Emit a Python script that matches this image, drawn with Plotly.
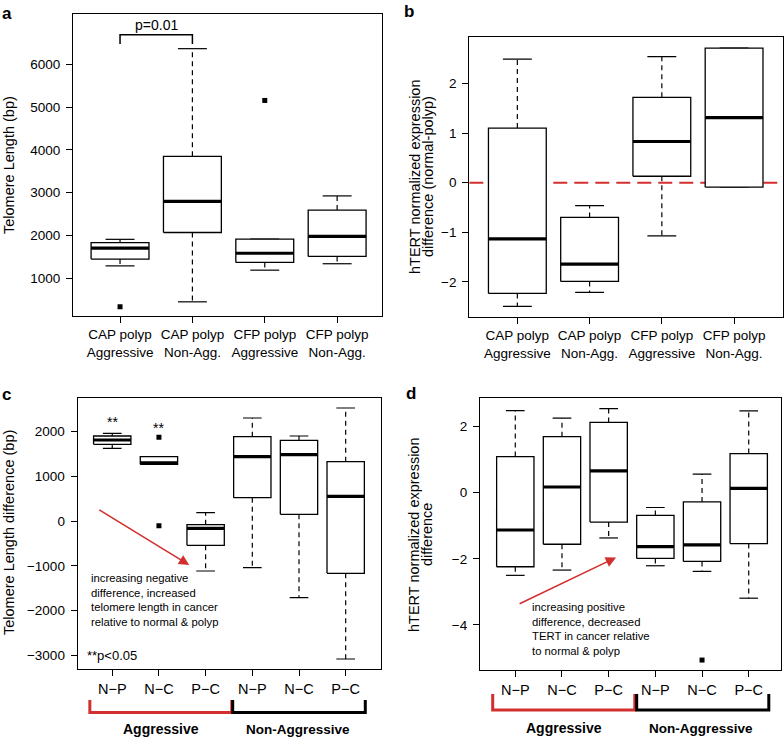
import plotly.graph_objects as go

FONT = "Liberation Sans, Arial, Helvetica, sans-serif"
W, H = 784, 738
RED = "#d32f2f"

# ---------------- data ----------------
# Panel a: telomere length in polyps
a_pos = [1, 2, 3, 4]
a_ticktext = ["CAP polyp<br>Aggressive", "CAP polyp<br>Non-Agg.",
              "CFP polyp<br>Aggressive", "CFP polyp<br>Non-Agg."]
a_lower = [1290, 450, 1190, 1340]
a_q1 = [1450, 2070, 1370, 1510]
a_median = [1705, 2795, 1585, 1980]
a_q3 = [1835, 3850, 1915, 2595]
a_upper = [1910, 6365, 1915, 2925]
a_out_x = [1, 3]
a_out_y = [335, 5155]
a_yticks = [1000, 2000, 3000, 4000, 5000, 6000]
a_bracket_y = [6474, 6692]

# Panel b: hTERT difference (normal-polyp)
b_pos = [1, 2, 3, 4]
b_lower = [-2.49, -2.21, -1.07, -0.09]
b_q1 = [-2.23, -1.99, 0.13, -0.09]
b_median = [-1.13, -1.64, 0.83, 1.31]
b_q3 = [1.10, -0.70, 1.72, 2.71]
b_upper = [2.49, -0.46, 2.54, 2.71]
b_yticks = [-2, -1, 0, 1, 2]

# Panel c: telomere length difference
c_pos = [1, 2, 3, 4, 5, 6]
cd_ticktext = ["N\u2212P", "N\u2212C", "P\u2212C", "N\u2212P", "N\u2212C", "P\u2212C"]
c_lower = [1621, 1264, -1114, -1040, -1709, -3076]
c_q1 = [1710, 1264, -542, 520, 149, -1166]
c_median = [1806, 1295, -163, 1434, 1479, 550]
c_q3 = [1895, 1434, -82, 1880, 1798, 1323]
c_upper = [1955, 1434, 186, 2296, 1895, 2519]
c_out_x = [2, 2]
c_out_y = [1866, -104]
c_yticks = [-3000, -2000, -1000, 0, 1000, 2000]
c_note = ["increasing negative", "difference, increased",
          "telomere length in cancer", "relative to normal &amp; polyp"]

# Panel d: hTERT difference
d_pos = [1, 2, 3, 4, 5, 6]
d_lower = [-2.50, -2.34, -1.37, -2.21, -2.38, -3.19]
d_q1 = [-2.24, -1.56, -0.89, -1.99, -2.08, -1.54]
d_median = [-1.13, 0.17, 0.66, -1.63, -1.58, 0.13]
d_q3 = [1.09, 1.69, 2.12, -0.69, -0.28, 1.18]
d_upper = [2.48, 2.25, 2.54, -0.45, 0.56, 2.47]
d_out_x = [5]
d_out_y = [-5.06]
d_yticks = [-4, -2, 0, 2]
d_note = ["increasing positive", "difference, decreased",
          "TERT in cancer relative", "to normal &amp; polyp"]


def px(p):
    return p / W


def py(p):
    return 1 - p / H


fig = go.Figure()


def add_boxes(xa, ya, pos, lower, q1, med, q3, upper, out_x, out_y, half=0.4, cap=0.2):
    bx, by, mx, my, wx, wy, cx, cy = [], [], [], [], [], [], [], []
    for p, lo, a, m, b, up in zip(pos, lower, q1, med, q3, upper):
        bx += [p - half, p + half, p + half, p - half, p - half, None]
        by += [a, a, b, b, a, None]
        mx += [p - half, p + half, None]
        my += [m, m, None]
        wx += [p, p, None, p, p, None]
        wy += [b, up, None, a, lo, None]
        cx += [p - cap, p + cap, None, p - cap, p + cap, None]
        cy += [up, up, None, lo, lo, None]
    common = dict(mode="lines", xaxis=xa, yaxis=ya, hoverinfo="skip", showlegend=False)
    fig.add_trace(go.Scatter(x=wx, y=wy, line=dict(color="black", width=1.2, dash="5px,4px"), **common))
    fig.add_trace(go.Scatter(x=cx, y=cy, line=dict(color="black", width=1.2), **common))
    fig.add_trace(go.Scatter(x=bx, y=by, line=dict(color="black", width=1.3), fill="toself",
                             fillcolor="white", **common))
    fig.add_trace(go.Scatter(x=mx, y=my, line=dict(color="black", width=3.2), **common))
    if out_x:
        fig.add_trace(go.Scatter(x=out_x, y=out_y, mode="markers", xaxis=xa, yaxis=ya,
                                 marker=dict(symbol="square", size=5, color="black"),
                                 hoverinfo="skip", showlegend=False))


# red zero line in b (drawn first so boxes sit on top)
fig.add_trace(go.Scatter(x=[0.335, 4.67], y=[0, 0], mode="lines", xaxis="x2", yaxis="y2",
                         line=dict(color=RED, width=2, dash="14px,7px"),
                         hoverinfo="skip", showlegend=False))

add_boxes("x", "y", a_pos, a_lower, a_q1, a_median, a_q3, a_upper, a_out_x, a_out_y)
add_boxes("x2", "y2", b_pos, b_lower, b_q1, b_median, b_q3, b_upper, [], [])
add_boxes("x3", "y3", c_pos, c_lower, c_q1, c_median, c_q3, c_upper, c_out_x, c_out_y)
add_boxes("x4", "y4", d_pos, d_lower, d_q1, d_median, d_q3, d_upper, d_out_x, d_out_y)

# p=0.01 bracket in a
fig.add_trace(go.Scatter(x=[a_pos[0], a_pos[0], a_pos[1], a_pos[1]],
                         y=[a_bracket_y[0], a_bracket_y[1], a_bracket_y[1], a_bracket_y[0]],
                         mode="lines", xaxis="x", yaxis="y", line=dict(color="black", width=1.5),
                         hoverinfo="skip", showlegend=False))

axis_common = dict(showline=True, linecolor="black", linewidth=1.2, mirror=True,
                   ticks="outside", ticklen=6, tickwidth=1.2, tickcolor="black",
                   showgrid=False, zeroline=False, fixedrange=True,
                   tickfont=dict(family=FONT, size=13.5, color="black"))

layout = dict(
    width=W, height=H, margin=dict(l=0, r=0, t=0, b=0),
    paper_bgcolor="white", plot_bgcolor="white", showlegend=False,
    font=dict(family=FONT, color="black"),
    xaxis=dict(domain=[px(73), px(382)], range=[0.35, 4.62], anchor="y",
               tickvals=a_pos, ticktext=a_ticktext, **axis_common),
    yaxis=dict(domain=[py(316), py(14)], range=[119, 7175], anchor="x",
               tickvals=a_yticks, ticklabelstandoff=3, **axis_common),
    xaxis2=dict(domain=[px(469.3), px(782.5)], range=[0.335, 4.67], anchor="y2",
                tickvals=b_pos, ticktext=a_ticktext, **axis_common),
    yaxis2=dict(domain=[py(316.7), py(37.3)], range=[-2.70, 2.93], anchor="x2",
                tickvals=b_yticks, ticklabelstandoff=3, **axis_common),
    xaxis3=dict(domain=[px(77.7), px(380.7)], range=[0.26, 6.75], anchor="y3",
                tickvals=c_pos, ticktext=cd_ticktext, **axis_common),
    yaxis3=dict(domain=[py(669), py(398.3)], range=[-3299, 2735], anchor="x3",
                tickvals=c_yticks, ticklabelstandoff=3, **axis_common),
    xaxis4=dict(domain=[px(480), px(780.7)], range=[0.244, 6.685], anchor="y4",
                tickvals=d_pos, ticktext=cd_ticktext, **axis_common),
    yaxis4=dict(domain=[py(670), py(398.3)], range=[-5.36, 2.85], anchor="x4",
                tickvals=d_yticks, ticklabelstandoff=3, **axis_common),
)
fig.update_layout(**layout)
fig.update_xaxes(tickfont=dict(size=14.5), selector=dict(anchor="y3"))
fig.update_xaxes(tickfont=dict(size=14.5), selector=dict(anchor="y4"))

ann = []


def text(x, y, s, size=14, xref="paper", yref="paper", xanchor="center", yanchor="middle",
         angle=0, bold=False, color="black", align="center"):
    ann.append(dict(x=x, y=y, xref=xref, yref=yref, text=("<b>%s</b>" % s) if bold else s,
                    showarrow=False, xanchor=xanchor, yanchor=yanchor, textangle=angle,
                    align=align, font=dict(family=FONT, size=size, color=color)))


# panel letters
text(px(0), py(2), "a", size=17, bold=True, xanchor="left", yanchor="top")
text(px(402), py(0), "b", size=17, bold=True, xanchor="left", yanchor="top")
text(px(0), py(383), "c", size=17, bold=True, xanchor="left", yanchor="top")
text(px(404), py(382), "d", size=17, bold=True, xanchor="left", yanchor="top")

# axis titles
text(px(9), py(165), "Telomere Length (bp)", size=14.5, angle=-90)
text(px(415), py(177), "hTERT normalized expression", size=14.5, angle=-90)
text(px(428), py(177), "difference (normal-polyp)", size=14.5, angle=-90)
text(px(9), py(533), "Telomere Length difference (bp)", size=14.5, angle=-90)
text(px(414), py(534), "hTERT normalized expression", size=14.5, angle=-90)
text(px(427), py(534), "difference", size=14.5, angle=-90)

# p value in a
text(1.5, 6918, "p=0.01", size=14, xref="x", yref="y")

# significance stars in c
text(1, 2210, "**", size=14, xref="x3", yref="y3")
text(2, 2070, "**", size=14, xref="x3", yref="y3")
text(px(85), py(655), "**p&lt;0.05", size=13, xanchor="left")

# explanatory notes
text(px(89), py(599.5), "<br>".join(c_note), size=11.3, xanchor="left", align="left")
text(px(529.5), py(628.5), "<br>".join(d_note), size=11.3, xanchor="left", align="left")

# red arrows
ann.append(dict(x=2.65, y=-981, ax=0.69, ay=267, xref="x3", yref="y3", axref="x3", ayref="y3",
                text="", showarrow=True, arrowhead=2, arrowsize=1.3, arrowwidth=1.6, arrowcolor=RED))
ann.append(dict(x=3.16, y=-1.96, ax=1.06, ay=-3.38, xref="x4", yref="y4", axref="x4", ayref="y4",
                text="", showarrow=True, arrowhead=2, arrowsize=1.3, arrowwidth=1.6, arrowcolor=RED))

# group labels
text(2.04, py(729), "Aggressive", size=14, bold=True, xref="x3")
text(4.98, py(729), "Non-Aggressive", size=13.5, bold=True, xref="x3")
text(2.04, py(728), "Aggressive", size=14, bold=True, xref="x4")
text(4.98, py(728), "Non-Aggressive", size=13.5, bold=True, xref="x4")

fig.update_layout(annotations=ann)

# group brackets under c and d
shapes = []
for xr, y_line, y_tip, spans in [("x3", py(712.5), py(700), [(0.52, 3.56, RED), (3.58, 6.42, "black")]),
                                 ("x4", py(710), py(694), [(0.516, 3.56, RED), (3.6, 6.43, "black")])]:
    for x0, x1, col in spans:
        shapes.append(dict(type="path", xref=xr, yref="paper",
                           path="M %f,%f L %f,%f L %f,%f L %f,%f" % (x0, y_tip, x0, y_line, x1, y_line, x1, y_tip),
                           line=dict(color=col, width=3)))
fig.update_layout(shapes=shapes)

fig.write_html("out.html", config={"displayModeBar": False},
               post_script="document.body.style.margin='0px';document.body.style.overflow='hidden';")
